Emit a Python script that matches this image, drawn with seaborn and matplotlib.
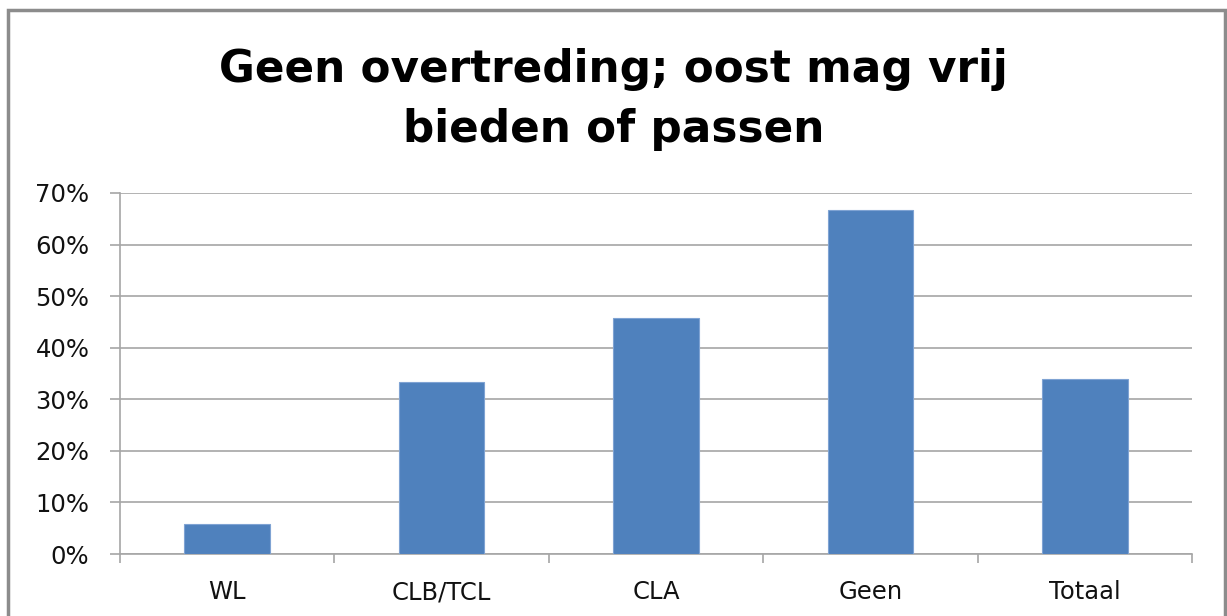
import pandas as pd
import matplotlib
matplotlib.use("Agg")
import matplotlib.pyplot as plt
import seaborn as sns
from matplotlib.patches import Rectangle
from matplotlib.ticker import PercentFormatter

categories = ['WL', 'CLB/TCL', 'CLA', 'Geen', 'Totaal']
values = [0.059, 0.333, 0.458, 0.667, 0.339]
y_ticks = [0, 0.1, 0.2, 0.3, 0.4, 0.5, 0.6, 0.7]
title_lines = ['Geen overtreding; oost mag vrij', 'bieden of passen']

df = pd.DataFrame({'Categorie': categories, 'Aandeel': values})

sns.set_style("white")
plt.rcParams['font.family'] = ['DejaVu Sans']

fig = plt.figure(figsize=(12.27, 6.16), dpi=100)
ax = fig.add_axes([0.0978, 0.1006, 0.8737, 0.5861])

sns.barplot(data=df, x='Categorie', y='Aandeel', color='#4F81BD', width=0.4,
            saturation=1, ax=ax, zorder=3, edgecolor='#7FA3D3', linewidth=0.8)

ax.set_ylim(0, 0.7)
ax.set_xlim(-0.5, len(categories) - 0.5)
ax.set_yticks(y_ticks)
ax.yaxis.set_major_formatter(PercentFormatter(1.0, decimals=0))
ax.yaxis.grid(True, color='#A6A6A6', linewidth=1.2, zorder=0)
ax.set_xlabel('')
ax.set_ylabel('')

for side in ['top', 'right']:
    ax.spines[side].set_visible(False)
for side in ['left', 'bottom']:
    ax.spines[side].set_color('#A6A6A6')
    ax.spines[side].set_linewidth(1.2)

# category boundary ticks on x, outward ticks on y
ax.set_xticks([i - 0.5 for i in range(len(categories) + 1)], minor=True)
ax.tick_params(axis='x', which='minor', bottom=True, direction='out', length=6.5,
               color='#A6A6A6', width=1.2)
ax.tick_params(axis='x', which='major', bottom=True, length=0, labelsize=17.5,
               pad=19, labelcolor='#111111')
ax.tick_params(axis='y', left=True, direction='out', length=7, color='#A6A6A6',
               width=1.2, labelsize=17.5, pad=15, labelcolor='#111111')

# two-line title, baselines placed as in the original
for line, y in zip(title_lines, [1 - 82 / 616, 1 - 142 / 616]):
    fig.text(0.5, y, line, ha='center', va='baseline', fontsize=31.5,
             fontweight='bold', color='black')

# chart area border
fig.patches.append(Rectangle((8 / 1227, -0.02), 1217 / 1227, 1.02 - 10 / 616,
                             transform=fig.transFigure, fill=False,
                             edgecolor='#8C8C8C', linewidth=2.5))

fig.savefig('out.png', dpi=100)
plt.close(fig)
